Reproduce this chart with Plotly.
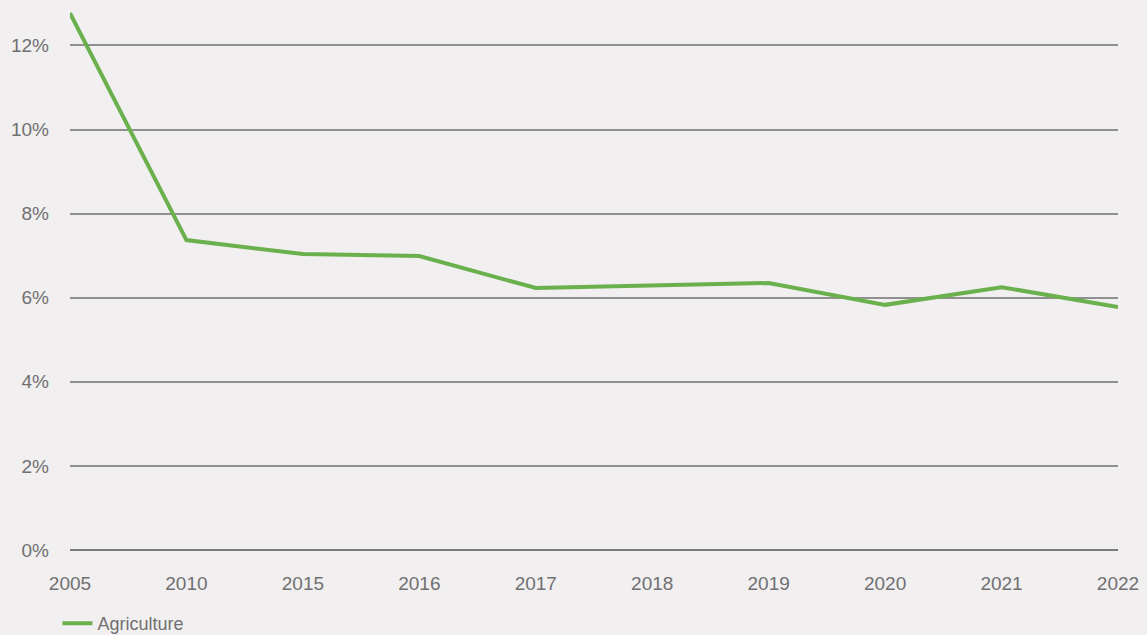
import plotly.graph_objects as go

years = ["2005", "2010", "2015", "2016", "2017", "2018", "2019", "2020", "2021", "2022"]
agriculture = [12.77, 7.37, 7.04, 6.99, 6.23, 6.28, 6.35, 5.83, 6.25, 5.78]
y_ticks = [0, 2, 4, 6, 8, 10, 12]
y_labels = [f"{v}%" for v in y_ticks]

BG = "#f1eff0"
TXT = "#707070"

fig = go.Figure()
fig.add_trace(go.Scatter(
    x=years, y=agriculture, mode="lines", name="Agriculture",
    line=dict(color="#6ab04c", width=4),
))

fig.update_layout(
    width=1147, height=635,
    paper_bgcolor=BG, plot_bgcolor=BG,
    margin=dict(l=70, r=29, t=0, b=85, autoexpand=False),
    font=dict(family="Liberation Sans, Arial, sans-serif", color=TXT, size=19),
    showlegend=True,
    legend=dict(orientation="h", x=-0.012, xanchor="left",
                yref="container", y=0.018, yanchor="middle",
                font=dict(size=18, color=TXT), bgcolor="rgba(0,0,0,0)"),
    xaxis=dict(type="category", range=[0, 9], showgrid=False, zeroline=False,
               showline=False, ticks="", tickfont=dict(size=19, color=TXT),
               ticklabelstandoff=20, automargin=False),
    yaxis=dict(range=[0, 13.08], tickmode="array", tickvals=y_ticks, ticktext=y_labels,
               showgrid=True, gridcolor="#909090", gridwidth=1.5,
               zeroline=True, zerolinecolor="#7a7a7a", zerolinewidth=2,
               showline=False, ticks="", tickfont=dict(size=19, color=TXT),
               ticklabelstandoff=20, automargin=False),
)

fig.write_html("out.html", config={"displayModeBar": False},
               post_script="document.body.style.margin='0px';document.body.style.background='%s';" % BG)
